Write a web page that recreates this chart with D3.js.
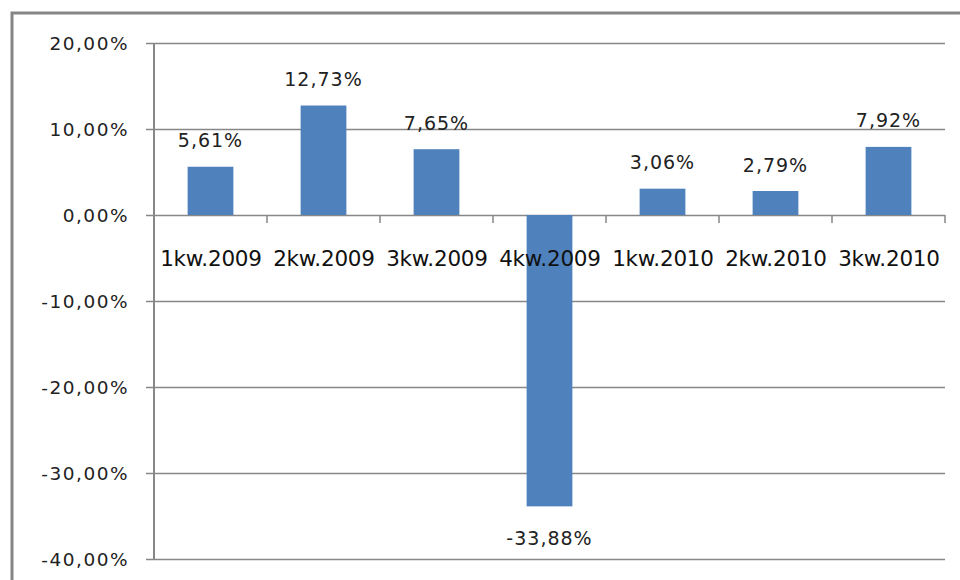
<!DOCTYPE html>
<html><head><meta charset="utf-8">
<script src="https://cdn.jsdelivr.net/npm/d3@7"></script>
<style>html,body{margin:0;padding:0;background:#fff;overflow:hidden}</style>
</head><body>
<svg id="c" width="960" height="580"></svg>
<script>
const categories = ["1kw.2009","2kw.2009","3kw.2009","4kw.2009","1kw.2010","2kw.2010","3kw.2010"];
const values = [5.61, 12.73, 7.65, -33.88, 3.06, 2.79, 7.92];
const yTicks = [20, 10, 0, -10, -20, -30, -40];

(function () {
const svg = d3.select("#c");
const font = "DejaVu Sans";
const fmt = v => d3.format(".2f")(v).replace(".", ",").replace("\u2212", "-") + "%";

// outer frame
svg.append("rect").attr("x", 12).attr("y", 13).attr("width", 960).attr("height", 600)
  .attr("fill", "none").attr("stroke", "#858585").attr("stroke-width", 3);

const pLeft = 154, pRight = 945, pTop = 43, pBottom = 559;
const x = d3.scaleBand().domain(categories).range([pLeft, pRight]).paddingInner(0.595).paddingOuter(0.2975);
const y = d3.scaleLinear().domain([-40, 20]).range([pBottom, pTop]);

// gridlines
svg.append("g").selectAll("line").data(yTicks).join("line")
  .attr("x1", pLeft - 8).attr("x2", pRight)
  .attr("y1", d => Math.round(y(d)) + 0.5).attr("y2", d => Math.round(y(d)) + 0.5)
  .attr("stroke", "#878787").attr("stroke-width", 1.5);

// y labels
svg.append("g").selectAll("text").data(yTicks).join("text")
  .attr("x", 129).attr("y", d => y(d) + 7)
  .attr("text-anchor", "end").attr("font-family", font).attr("font-size", 18.5)
  .attr("letter-spacing", 1.5).attr("fill", "#222").text(d => fmt(d));

// bars
svg.append("g").selectAll("rect").data(values).join("rect")
  .attr("x", (d, i) => x(categories[i]))
  .attr("width", x.bandwidth())
  .attr("y", d => y(Math.max(0, d)))
  .attr("height", d => Math.abs(y(d) - y(0)))
  .attr("fill", "#4F81BD");

// y axis line
svg.append("line").attr("x1", pLeft).attr("x2", pLeft).attr("y1", pTop).attr("y2", pBottom)
  .attr("stroke", "#878787").attr("stroke-width", 2);

// category ticks
svg.append("g").selectAll("line").data(d3.range(categories.length + 1)).join("line")
  .attr("x1", i => pLeft + i * (pRight - pLeft) / categories.length)
  .attr("x2", i => pLeft + i * (pRight - pLeft) / categories.length)
  .attr("y1", y(0)).attr("y2", y(0) + 8)
  .attr("stroke", "#878787").attr("stroke-width", 1.5);

// category labels
svg.append("g").selectAll("text").data(categories).join("text")
  .attr("x", d => x(d) + x.bandwidth() / 2 + 0.5).attr("y", y(0) + 51)
  .attr("text-anchor", "middle").attr("font-family", font).attr("font-size", 21.5)
  .attr("letter-spacing", -0.2).attr("fill", "#111").text(d => d);

// data labels
svg.append("g").selectAll("text").data(values).join("text")
  .attr("x", (d, i) => x(categories[i]) + x.bandwidth() / 2)
  .attr("y", d => d >= 0 ? y(d) - 19.5 : y(d) + 39)
  .attr("text-anchor", "middle").attr("font-family", font).attr("font-size", 19)
  .attr("letter-spacing", 1).attr("fill", "#222").text(d => fmt(d));
})();
</script>
</body></html>
